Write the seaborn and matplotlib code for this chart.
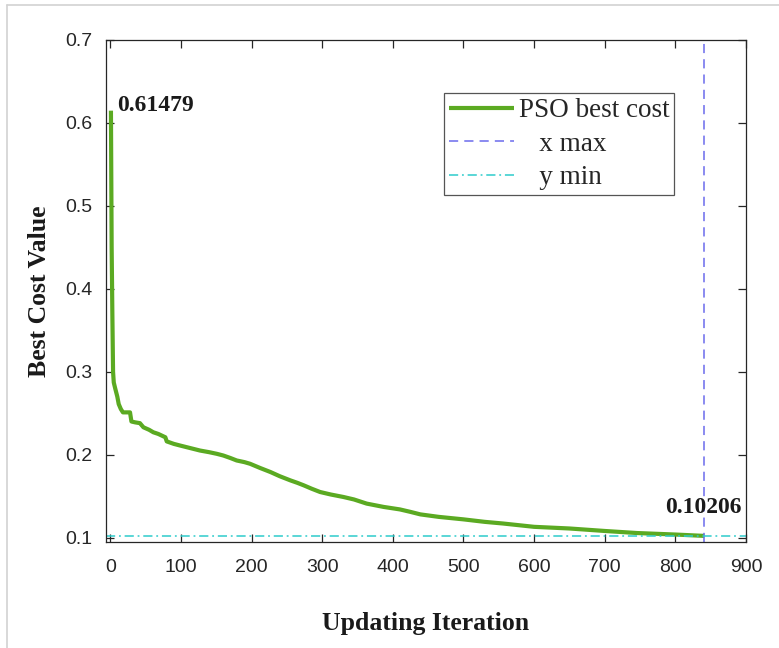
import matplotlib
matplotlib.use("Agg")
import matplotlib.pyplot as plt
from matplotlib.lines import Line2D
import seaborn as sns
import pandas as pd

# ---- data ----
iterations = [1, 2, 3, 4, 5, 7, 10, 12, 15, 18, 22, 28, 30, 35, 42, 47, 55, 61,
              68, 73, 78, 80, 90, 99, 113, 127, 140, 151, 160, 170, 179, 190,
              198, 212, 227, 240, 255, 265, 274, 285, 297, 312, 330, 345, 363,
              387, 410, 425, 439, 465, 500, 530, 556, 600, 650, 700, 746, 800, 841]
best_cost = [0.61479, 0.45, 0.37, 0.30, 0.287, 0.28, 0.27, 0.261, 0.255, 0.251,
             0.251, 0.251, 0.240, 0.239, 0.238, 0.233, 0.230, 0.227, 0.225,
             0.223, 0.221, 0.216, 0.213, 0.211, 0.208, 0.205, 0.203, 0.201,
             0.199, 0.196, 0.193, 0.191, 0.189, 0.184, 0.179, 0.174, 0.169,
             0.166, 0.163, 0.159, 0.155, 0.152, 0.149, 0.146, 0.141, 0.137,
             0.134, 0.131, 0.128, 0.125, 0.122, 0.119, 0.117, 0.113, 0.111,
             0.108, 0.1055, 0.1037, 0.10206]
x_max = 841
y_min = 0.10206
start_label = "0.61479"
end_label = "0.10206"
legend_labels = ["PSO best cost", "   x max", "   y min"]
x_ticks = [0, 100, 200, 300, 400, 500, 600, 700, 800, 900]
y_ticks = [0.1, 0.2, 0.3, 0.4, 0.5, 0.6, 0.7]

df = pd.DataFrame({"Iteration": iterations, "Cost": best_cost})

sns.set_theme(style="white")
plt.rcParams["font.family"] = ["Liberation Sans", "DejaVu Sans"]

fig = plt.figure(figsize=(7.79, 6.48), dpi=100)
ax = fig.add_axes([106 / 779, 1 - 542 / 648, 640 / 779, 502 / 648])

green = "#5BAA22"
sns.lineplot(data=df, x="Iteration", y="Cost", ax=ax, color=green, lw=3.0,
             label=legend_labels[0], solid_capstyle="butt")
ax.axvline(x_max, color="#6b6bec", lw=1.1, ls=(0, (6, 4)), label=legend_labels[1])
ax.axhline(y_min, color="#2ecccc", lw=1.1, ls=(0, (6, 2.5, 1.2, 2.5)), label=legend_labels[2])

ax.set_xlim(-6, 900)
ax.set_ylim(0.0947, 0.7)
ax.set_xticks(x_ticks)
ax.set_yticks(y_ticks)
ax.set_xticklabels([str(t) for t in x_ticks])
ax.set_yticklabels([f"{t:.1f}" for t in y_ticks])

ax.tick_params(direction="in", length=6, width=0.9, top=True, right=True,
               labelsize=14, labelcolor="#262626", color="#262626",
               bottom=True, left=True)
ax.tick_params(axis="x", pad=12.5)
ax.tick_params(axis="y", pad=9.5)
for s in ax.spines.values():
    s.set_color("#262626")
    s.set_linewidth(0.9)

serif = ["Liberation Serif", "DejaVu Serif"]
ax.set_xlabel("Updating Iteration", family=serif, fontsize=18.5,
              fontweight="bold", color="#1a1a1a", labelpad=26)
ax.set_ylabel("Best Cost Value", family=serif, fontsize=18.5,
              fontweight="bold", color="#1a1a1a", labelpad=10.5)

ax.annotate(start_label, xy=(iterations[0], best_cost[0]), xytext=(4.5, 0),
            textcoords="offset points", ha="left", va="baseline",
            family=serif, fontsize=17, fontweight="bold", color="#1a1a1a")
ax.annotate(end_label, xy=(iterations[-1], best_cost[-1]), xytext=(-1, 16.5),
            textcoords="offset points", ha="center", va="baseline",
            family=serif, fontsize=17, fontweight="bold", color="#1a1a1a")

leg = ax.legend(loc="upper right", bbox_to_anchor=(0.888, 0.894),
                borderaxespad=0, fancybox=False, framealpha=1,
                edgecolor="#555555", prop={"family": serif, "size": 19.5},
                handlelength=2.4, handletextpad=0.19, labelspacing=0.32,
                borderpad=0.18)
leg.get_frame().set_linewidth(0.9)

# light screenshot frame
fig.add_artist(Line2D([7 / 779, 7 / 779], [0, 1 - 5 / 648], transform=fig.transFigure,
                      color="#d2d2d2", lw=1.2))
fig.add_artist(Line2D([7 / 779, 1], [1 - 5 / 648, 1 - 5 / 648], transform=fig.transFigure,
                      color="#d2d2d2", lw=1.2))

fig.savefig("out.png", dpi=100)
